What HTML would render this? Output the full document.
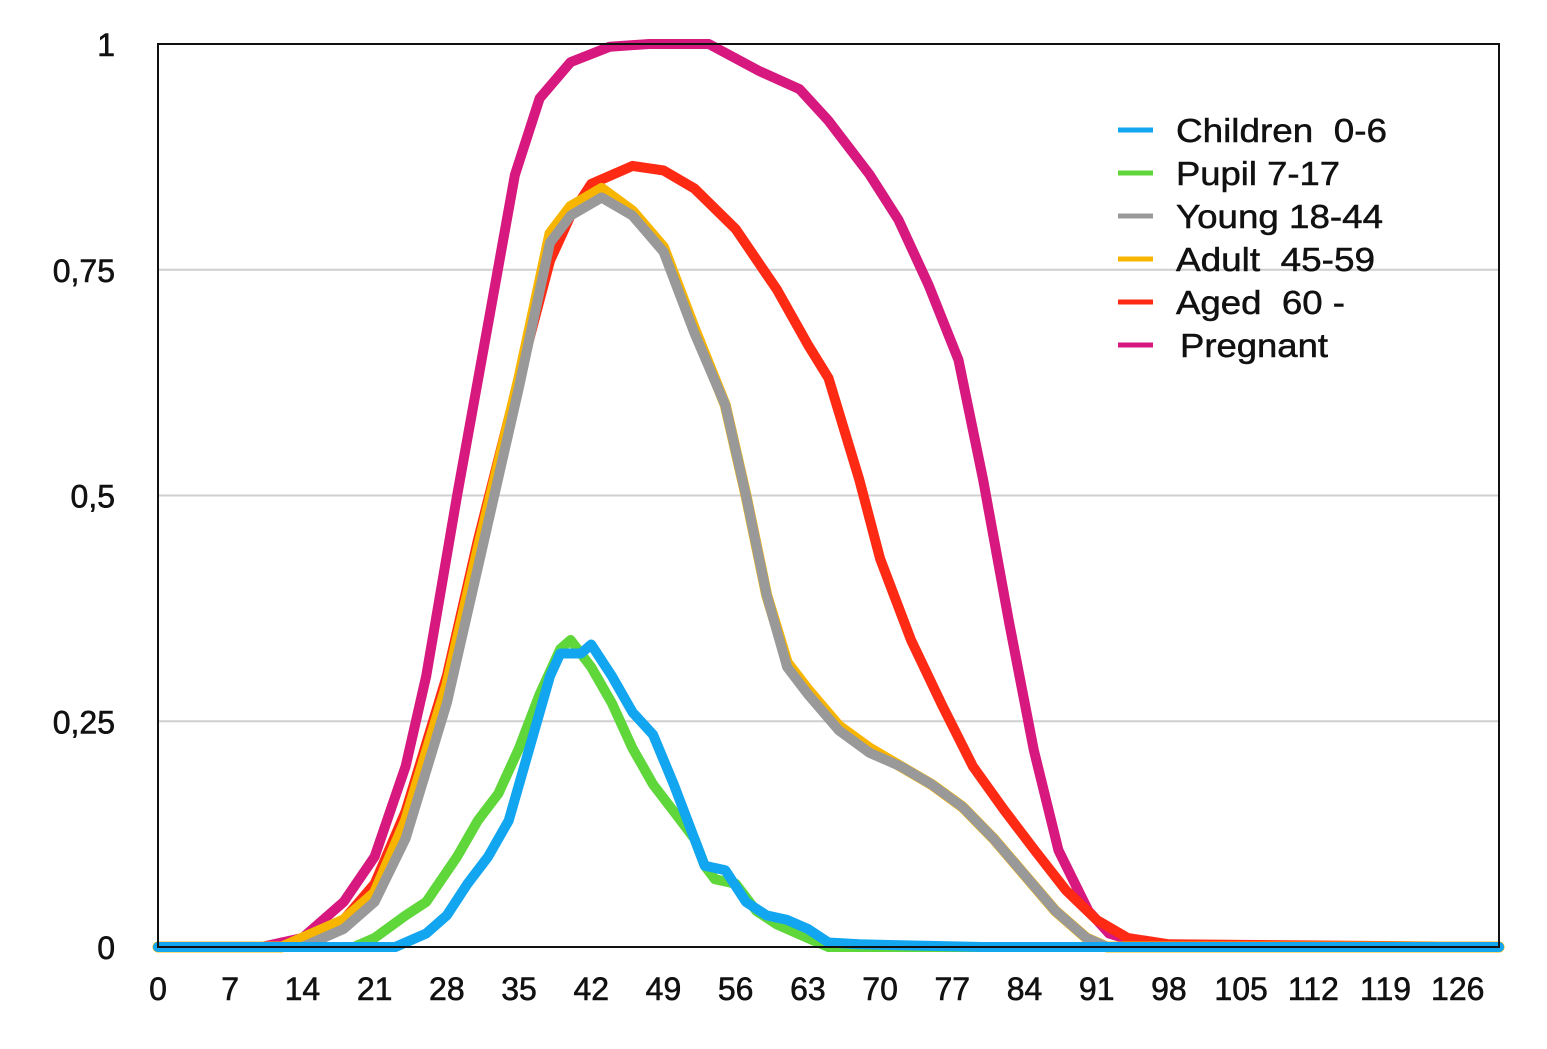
<!DOCTYPE html>
<html><head><meta charset="utf-8"><style>
html,body{margin:0;padding:0;background:#fff;}
svg{display:block;font-family:"Liberation Sans",sans-serif;}
#legend text{white-space:pre;}
</style></head><body>
<svg id="chart" width="1547" height="1049" viewBox="0 0 1547 1049">
<g id="grid"></g>
<g id="series"></g>
<rect x="158" y="44" width="1341" height="903" fill="none" stroke="#111" stroke-width="2"/>
<g id="yticks"></g>
<g id="xticks"></g>
<g id="legend"></g>
</svg>
<script>
const xTicks=[0,7,14,21,28,35,42,49,56,63,70,77,84,91,98,105,112,119,126];
const yTicks=[0,0.25,0.5,0.75,1];
const yTickLabels=["0","0,25","0,5","0,75","1"];
const seriesNames=["Pregnant","Aged  60 -","Adult  45-59","Young 18-44","Pupil 7-17","Children  0-6"];
const legendOrder=["Children  0-6","Pupil 7-17","Young 18-44","Adult  45-59","Aged  60 -","Pregnant"];
const colors={"Pregnant":"#d6187f","Aged  60 -":"#ff2a14","Adult  45-59":"#f7b500","Young 18-44":"#999999","Pupil 7-17":"#5fd63a","Children  0-6":"#12a5f0"};
const pregnantX=[0,10,14,18,21,24,26,29,32,34.6,37,40,43.8,47.6,53.4,58.3,62.2,65,69,71.8,74.7,77.6,80,82.5,84.9,87.3,90.2,92.2,95,100,130];
const pregnantY=[0,0,0.01,0.05,0.1,0.2,0.3,0.5,0.69,0.855,0.94,0.98,0.997,1,1,0.97,0.95,0.915,0.855,0.805,0.733,0.65,0.517,0.36,0.218,0.107,0.04,0.015,0.005,0,0];
const agedX=[0,12,14,18,21,24,28,31,35,38,40,42,46,49,52,56,60,63,65,68,70,73,76,79,82,85,88,91,94,98,130];
const agedY=[0,0,0.01,0.03,0.07,0.15,0.3,0.45,0.63,0.76,0.81,0.845,0.865,0.86,0.84,0.795,0.728,0.667,0.63,0.517,0.43,0.34,0.268,0.2,0.152,0.107,0.063,0.03,0.01,0.003,0];
const youngX=[0,14,16,18,21,24,28,31,35,38,40,43,46,49,52,55,57,59,61,63,66,69,72,75,78,81,84,87,90,92,130];
const youngY=[0,0,0.01,0.02,0.05,0.12,0.27,0.42,0.62,0.78,0.81,0.83,0.81,0.77,0.68,0.6,0.5,0.39,0.31,0.28,0.24,0.215,0.2,0.18,0.155,0.12,0.08,0.04,0.01,0,0];
const adultX=[0,12,14,18,21,24,28,31,35,38,40,43,46,49,52,55,57,59,61,63,66,69,72,75,78,81,84,87,90,92,130];
const adultY=[0,0,0.01,0.03,0.06,0.14,0.29,0.44,0.63,0.79,0.82,0.84,0.815,0.775,0.685,0.6,0.5,0.39,0.315,0.285,0.245,0.22,0.2,0.18,0.155,0.12,0.08,0.04,0.01,0,0];
const pupilX=[0,19,21,24,26,29,31,33,35,37,39,40,42,44,46,48,50,52,53,54,56,58,60,62,64,65,130];
const pupilY=[0,0,0.01,0.035,0.05,0.1,0.14,0.17,0.22,0.28,0.33,0.34,0.31,0.27,0.22,0.18,0.15,0.12,0.09,0.075,0.07,0.04,0.025,0.015,0.005,0,0];
const childX=[0,23,24,26,28,30,32,34,36,38,39,41,42,44,46,48,50,52,53,55,57,59,61,63,65,68,80,130];
const childY=[0,0,0.005,0.015,0.035,0.07,0.1,0.14,0.22,0.3,0.325,0.325,0.335,0.3,0.26,0.235,0.18,0.12,0.09,0.085,0.05,0.035,0.03,0.02,0.005,0.003,0,0];
const seriesX=[pregnantX,agedX,adultX,youngX,pupilX,childX];
const seriesY=[pregnantY,agedY,adultY,youngY,pupilY,childY];

const NS="http://www.w3.org/2000/svg";
const L=158,R=1499,T=44,B=947,XMAX=130;
const sx=v=>L+v*(R-L)/XMAX;
const sy=v=>B-v*(B-T);
const legendWidths=[211,164,207,199,169,148];
function mk(tag,attrs,parent){const e=document.createElementNS(NS,tag);for(const k in attrs)e.setAttribute(k,attrs[k]);parent.appendChild(e);return e;}
const grid=document.getElementById('grid');
yTicks.forEach((t,i)=>{
  if(t>0&&t<1){
    const l=mk('line',{x1:L,x2:R,y1:sy(t),y2:sy(t),stroke:'#cfcfcf','stroke-width':2},grid);
    
    
  }
  const tx=mk('text',{x:115,y:sy(t)+12,'text-anchor':'end','font-size':32,fill:'#111',stroke:'#111','stroke-width':0.6},document.getElementById('yticks'));
  tx.textContent=yTickLabels[i];
  
  
});
xTicks.forEach(t=>{
  const tx=mk('text',{x:sx(t),y:1000,'text-anchor':'middle','font-size':32,fill:'#111',stroke:'#111','stroke-width':0.6},document.getElementById('xticks'));
  tx.textContent=t;
  
  
});
const sg=document.getElementById('series');
seriesNames.forEach((n,i)=>{
  const d=seriesX[i].map((x,j)=>(j?'L':'M')+sx(x).toFixed(1)+' '+sy(seriesY[i][j]).toFixed(1)).join(' ');
  const p=mk('path',{d:d,fill:'none',stroke:colors[n],'stroke-width':n.startsWith('Adult')?11:10,'stroke-linejoin':'round','stroke-linecap':'round'},sg);
  
  
});
const lg=document.getElementById('legend');
legendOrder.forEach((n,i)=>{
  const y=130+i*43;
  const l=mk('line',{x1:1118,x2:1153,y1:y,y2:y,stroke:colors[n],'stroke-width':5},lg);
  
  
  const t=mk('text',{x:n==='Pregnant'?1180:1176,y:y+12,'font-size':33,fill:'#111',stroke:'#111','stroke-width':0.5,textLength:legendWidths[i],lengthAdjust:'spacingAndGlyphs'},lg);
  t.textContent=n;
  
  
});
</script>
</body></html>
